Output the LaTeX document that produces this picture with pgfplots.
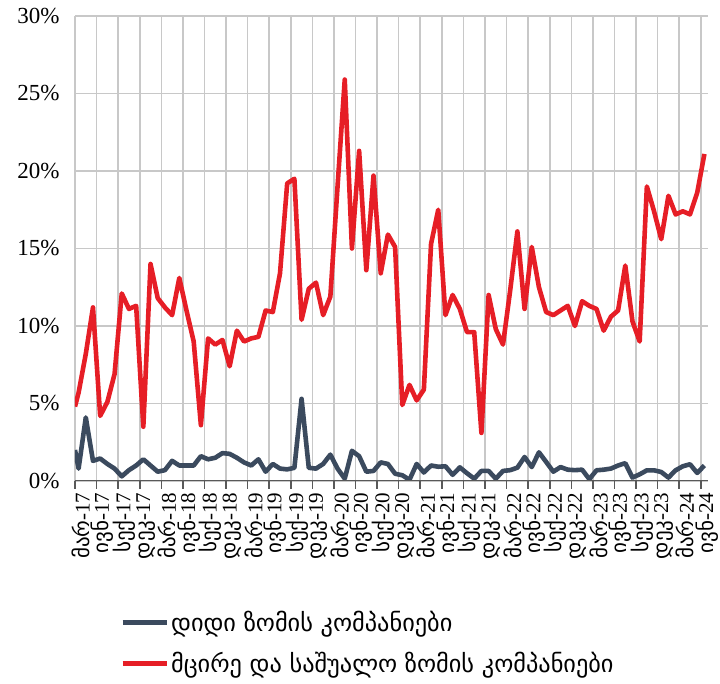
\documentclass[border=0pt]{standalone}
\usepackage{fontspec}
\setmainfont{Liberation Serif}
\newfontfamily\geo{DejaVu Sans}
\usepackage{pgfplots}
\usepackage{pgfplotstable}
\pgfplotsset{compat=1.18}

\definecolor{bigco}{HTML}{3B4A5E}
\definecolor{smeco}{HTML}{E61E26}
\definecolor{gridc}{HTML}{C8C8C8}

\newcommand{\ml}[2]{{\geo #1}-#2}

% monthly shares, Mar-17 ... Jun-24 (idx 0..87), first row is the edge start
\pgfplotstableread{
idx big sme
-0.5 2.0 4.8
0 0.8 5.7
1 4.1 8.2
2 1.3 11.2
3 1.45 4.2
4 1.1 5.1
5 0.8 6.9
6 0.3 12.1
7 0.7 11.1
8 1.0 11.3
9 1.4 3.5
10 1.0 14.0
11 0.6 11.8
12 0.7 11.2
13 1.3 10.7
14 1.0 13.1
15 1.0 11.0
16 1.0 9.0
17 1.6 3.6
18 1.4 9.2
19 1.5 8.8
20 1.8 9.1
21 1.75 7.4
22 1.5 9.7
23 1.2 9.0
24 1.0 9.2
25 1.4 9.3
26 0.6 11.0
27 1.1 10.9
28 0.8 13.4
29 0.75 19.2
30 0.85 19.5
31 5.3 10.4
32 0.85 12.4
33 0.8 12.8
34 1.1 10.7
35 1.7 11.9
36 0.8 19.0
37 0.15 25.9
38 1.95 15.0
39 1.6 21.3
40 0.6 13.6
41 0.65 19.7
42 1.2 13.4
43 1.1 15.9
44 0.47 15.1
45 0.37 4.9
46 0.08 6.2
47 1.1 5.2
48 0.55 5.9
49 1.0 15.3
50 0.92 17.5
51 0.95 10.7
52 0.4 12.0
53 0.88 11.1
54 0.5 9.6
55 0.15 9.6
56 0.65 3.1
57 0.65 12.0
58 0.15 9.8
59 0.65 8.8
60 0.7 12.3
61 0.86 16.1
62 1.55 11.1
63 0.9 15.1
64 1.85 12.5
65 1.23 10.9
66 0.6 10.7
67 0.9 11.0
68 0.73 11.3
69 0.7 10.0
70 0.73 11.6
71 0.12 11.3
72 0.69 11.1
73 0.73 9.7
74 0.8 10.6
75 1.0 11.0
76 1.15 13.9
77 0.22 10.3
78 0.43 9.0
79 0.69 19.0
80 0.69 17.4
81 0.58 15.6
82 0.22 18.4
83 0.69 17.2
84 0.95 17.4
85 1.08 17.2
86 0.52 18.6
87 1.0 21.1
}\shares

\begin{document}
\begin{tikzpicture}
\begin{axis}[
  name=ax,
  scale only axis,
  width=633pt, height=465pt,
  xmin=-0.5, xmax=87.5,
  ymin=0, ymax=30,
  axis line style={draw=none},
  grid=major,
  grid style={gridc, line width=1.6pt},
  xtick={-0.5,2.5,...,86.5},
  xticklabels={\ml{მარ}{17},\ml{ივნ}{17},\ml{სექ}{17},\ml{დეკ}{17},
    \ml{მარ}{18},\ml{ივნ}{18},\ml{სექ}{18},\ml{დეკ}{18},
    \ml{მარ}{19},\ml{ივნ}{19},\ml{სექ}{19},\ml{დეკ}{19},
    \ml{მარ}{20},\ml{ივნ}{20},\ml{სექ}{20},\ml{დეკ}{20},
    \ml{მარ}{21},\ml{ივნ}{21},\ml{სექ}{21},\ml{დეკ}{21},
    \ml{მარ}{22},\ml{ივნ}{22},\ml{სექ}{22},\ml{დეკ}{22},
    \ml{მარ}{23},\ml{ივნ}{23},\ml{სექ}{23},\ml{დეკ}{23},
    \ml{მარ}{24},\ml{ივნ}{24}},
  xtick pos=bottom,
  xtick align=outside,
  major tick length=8pt,
  xtick style={draw=black!65, line width=1.6pt},
  xticklabel style={rotate=90, anchor=east, font=\fontsize{21}{24}\selectfont, yshift=-6pt},
  ytick={0,5,...,30},
  yticklabels={0\%,5\%,10\%,15\%,20\%,25\%,30\%},
  ytick pos=left,
  ytick style={draw=none},
  yticklabel style={font=\fontsize{23}{26}\selectfont, xshift=-12pt},
  legend style={at={(rel axis cs:0.071,-0.276)}, anchor=north west,
    draw=none, fill=none, inner sep=0pt,
    font=\fontsize{24.3}{28}\selectfont\geo,
    row sep=15pt,
    nodes={inner sep=2pt, anchor=west}},
  legend cell align=left,
  legend image code/.code={\draw[#1, line width=5pt] (0pt,0pt) -- (44pt,0pt);},
  every axis plot/.append style={line width=4.6pt, line join=round},
]
\addplot[bigco] table[x=idx, y=big] {\shares};
\addlegendentry{დიდი ზომის კომპანიები}
\addplot[smeco] table[x=idx, y=sme] {\shares};
\addlegendentry{მცირე და საშუალო ზომის კომპანიები}
\draw[black!65, line width=1.6pt] (rel axis cs:0,0) -- (rel axis cs:1,0);
\end{axis}
\path (ax.south west) ++(-75pt,-203pt) coordinate (bbA);
\path (ax.north east) ++(12pt,16pt) coordinate (bbB);
\pgfresetboundingbox
\useasboundingbox (bbA) rectangle (bbB);
\end{tikzpicture}
\end{document}
